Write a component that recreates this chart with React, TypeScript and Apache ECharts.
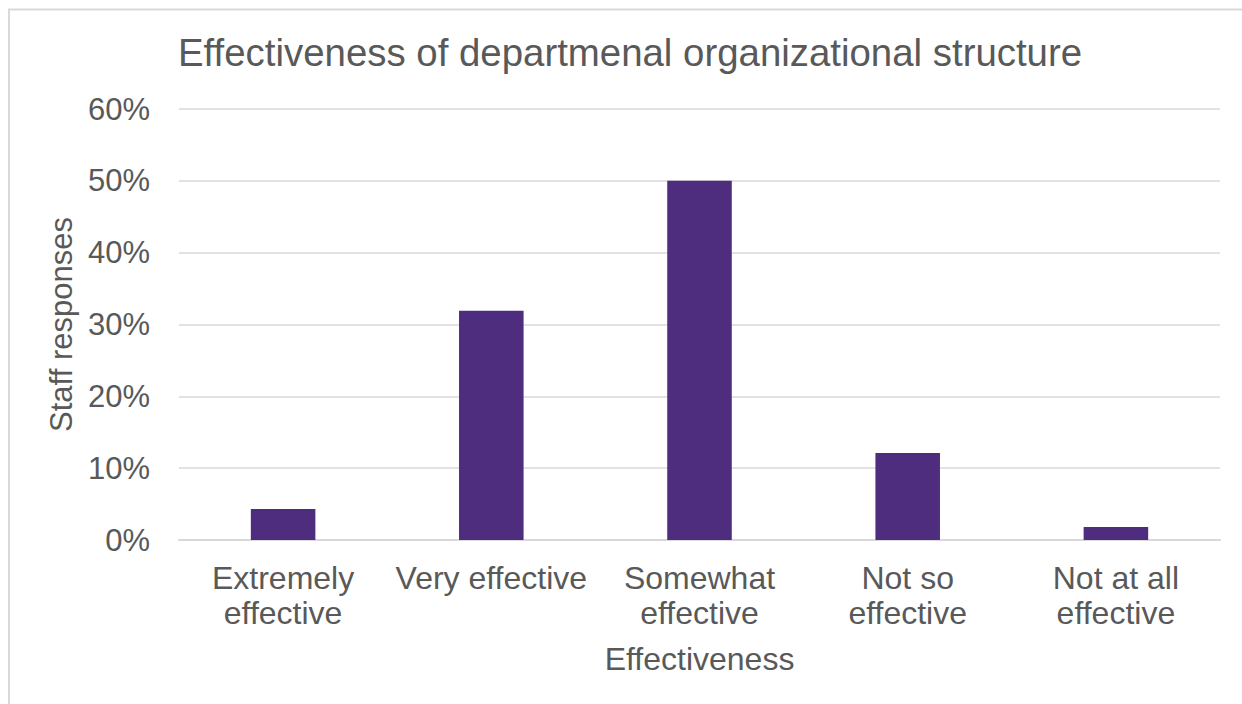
import React, { useEffect, useRef } from "react";
import * as echarts from "echarts";

const categories = [
  "Extremely\neffective",
  "Very effective",
  "Somewhat\neffective",
  "Not so\neffective",
  "Not at all\neffective",
];
const values = [4.3, 31.9, 50.0, 12.1, 1.8];
const titleText = "Effectiveness of departmenal organizational structure";
const xName = "Effectiveness";
const yName = "Staff responses";

const FONT = "'Liberation Sans', Arial, sans-serif";
const GREY = "#595959";

export default function App() {
  const ref = useRef<HTMLDivElement>(null);
  useEffect(() => {
    document.body.style.margin = "0";
    const chart = echarts.init(ref.current!, null, { renderer: "svg" });
    chart.setOption({
      animation: false,
      backgroundColor: "#ffffff",
      textStyle: { fontFamily: FONT },
      title: {
        text: titleText,
        left: 178,
        top: 52,
        textVerticalAlign: "middle",
        padding: 0,
        textStyle: { fontFamily: FONT, fontSize: 38.4, fontWeight: "normal", color: GREY },
      },
      graphic: [
        {
          type: "rect",
          shape: { x: 9, y: 9.5, width: 1300, height: 800 },
          style: { fill: "none", stroke: "#d9d9d9", lineWidth: 2 },
          silent: true,
          z: -1,
        },
      ],
      grid: { left: 179, right: 22, top: 109, bottom: 164, containLabel: false },
      xAxis: {
        type: "category",
        data: categories,
        name: xName,
        nameLocation: "middle",
        nameGap: 103,
        nameTextStyle: { fontFamily: FONT, fontSize: 32, color: GREY, verticalAlign: "top" },
        axisLine: { show: true, lineStyle: { color: "#d9d9d9", width: 2 } },
        axisTick: { show: false },
        axisLabel: {
          interval: 0,
          margin: 20,
          fontFamily: FONT,
          fontSize: 32,
          lineHeight: 35,
          color: GREY,
        },
      },
      yAxis: {
        type: "value",
        min: 0,
        max: 60,
        interval: 10,
        name: yName,
        nameLocation: "middle",
        nameGap: 117,
        nameRotate: 90,
        nameTextStyle: { fontFamily: FONT, fontSize: 31, color: GREY, verticalAlign: "middle" },
        axisLine: { show: false },
        axisTick: { show: false },
        axisLabel: {
          margin: 29,
          fontFamily: FONT,
          fontSize: 31,
          color: GREY,
          formatter: (v: number) => `${v}%`,
        },
        splitLine: { lineStyle: { color: "#d9d9d9", width: 1.5 } },
      },
      series: [
        {
          type: "bar",
          data: values,
          barWidth: "31%",
          itemStyle: { color: "#4e2c7e" },
        },
      ],
    });
    return () => chart.dispose();
  }, []);
  return (
    <div
      ref={ref}
      style={{ position: "absolute", left: 0, top: 0, width: 1242, height: 704 }}
    />
  );
}
